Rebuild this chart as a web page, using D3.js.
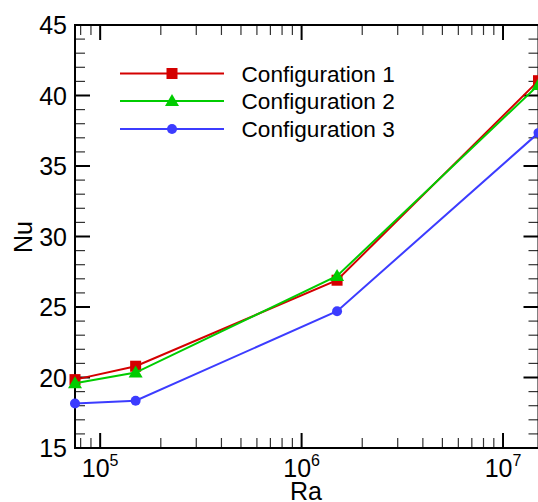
<!DOCTYPE html>
<html>
<head>
<meta charset="utf-8">
<script src="https://cdn.jsdelivr.net/npm/d3@7"></script>
<style>
  html, body { margin: 0; padding: 0; background: #fff; }
  svg { display: block; }
  text { font-family: "Liberation Sans", Arial, sans-serif; fill: #000; }
</style>
</head>
<body>
<svg id="chart" width="538" height="502"></svg>
<script>
// Rayleigh numbers sampled
const raValues = [7.5e4, 1.5e5, 1.5e6, 1.5e7];
// Nusselt numbers per configuration
const config1 = [19.85, 20.8, 26.9, 41.05];
const config2 = [19.6, 20.35, 27.2, 40.75];
const config3 = [18.15, 18.35, 24.7, 37.35];
const seriesNames = ["Configuration 1", "Configuration 2", "Configuration 3"];
const seriesColors = ["#d40000", "#00cc00", "#3c3cff"];
const seriesShapes = ["square", "triangle", "circle"];
const yTicks = [15, 20, 25, 30, 35, 40, 45];
const xMajorExps = [5, 6, 7];

const svg = d3.select("#chart");
const m = { left: 75, top: 25, right: 538.5, bottom: 448 };

const x = d3.scaleLog().domain([7.5e4, 1.5e7]).range([m.left, m.right]);
const y = d3.scaleLinear().domain([15, 45]).range([m.bottom, m.top]);

// Minor ticks: every 1 on y; 2..9 × 10^n on x
const yMinor = d3.range(15, 46, 1).filter(v => v % 5 !== 0);
const xMinor = [];
[4, 5, 6, 7].forEach(e => { for (let k = 2; k <= 9; k++) { const v = k * Math.pow(10, e); if (v >= 7.5e4 && v <= 1.5e7) xMinor.push(v); } });
const xMajor = xMajorExps.map(e => Math.pow(10, e));

const majorLen = 15, minorLen = 10;
const tickG = svg.append("g");

// Left and right axes (ticks pointing inward)
yTicks.forEach(v => {
  tickG.append("line").attr("x1", m.left).attr("x2", m.left + majorLen).attr("y1", y(v)).attr("y2", y(v)).attr("stroke", "#000").attr("stroke-width", 2);
  tickG.append("line").attr("x1", m.right).attr("x2", m.right - majorLen).attr("y1", y(v)).attr("y2", y(v)).attr("stroke", "#000").attr("stroke-width", 2);
});
yMinor.forEach(v => {
  tickG.append("line").attr("x1", m.left).attr("x2", m.left + minorLen).attr("y1", y(v)).attr("y2", y(v)).attr("stroke", "#333").attr("stroke-width", 1.2);
  tickG.append("line").attr("x1", m.right).attr("x2", m.right - minorLen).attr("y1", y(v)).attr("y2", y(v)).attr("stroke", "#333").attr("stroke-width", 1.2);
});
// Bottom and top axes
xMajor.forEach(v => {
  tickG.append("line").attr("x1", x(v)).attr("x2", x(v)).attr("y1", m.bottom).attr("y2", m.bottom - majorLen).attr("stroke", "#000").attr("stroke-width", 2);
  tickG.append("line").attr("x1", x(v)).attr("x2", x(v)).attr("y1", m.top).attr("y2", m.top + majorLen).attr("stroke", "#000").attr("stroke-width", 2);
});
xMinor.forEach(v => {
  tickG.append("line").attr("x1", x(v)).attr("x2", x(v)).attr("y1", m.bottom).attr("y2", m.bottom - minorLen).attr("stroke", "#333").attr("stroke-width", 1.2);
  tickG.append("line").attr("x1", x(v)).attr("x2", x(v)).attr("y1", m.top).attr("y2", m.top + minorLen).attr("stroke", "#333").attr("stroke-width", 1.2);
});

// Frame
svg.append("rect").attr("x", m.left).attr("y", m.top)
  .attr("width", m.right - m.left).attr("height", m.bottom - m.top)
  .attr("fill", "none").attr("stroke", "#000").attr("stroke-width", 2);

// Y tick labels
yTicks.forEach(v => {
  svg.append("text").attr("x", 67).attr("y", y(v)).attr("dy", "0.36em")
    .attr("text-anchor", "end").attr("font-size", 25).text(v);
});
// X tick labels: 10 with superscript exponent
xMajorExps.forEach(e => {
  const t = svg.append("text").attr("x", x(Math.pow(10, e))).attr("y", 476.5)
    .attr("text-anchor", "middle").attr("font-size", 25);
  t.append("tspan").text("10");
  t.append("tspan").attr("font-size", 16).attr("dy", -11).text(e);
});

// Axis titles
svg.append("text").attr("x", 306).attr("y", 500).attr("text-anchor", "middle").attr("font-size", 25).text("Ra");
svg.append("text").attr("transform", "translate(32,237) rotate(-90)").attr("text-anchor", "middle").attr("font-size", 25).text("Nu");

// Marker drawing
function marker(g, shape, cx, cy, color) {
  if (shape === "square") {
    g.append("rect").attr("x", cx - 5.5).attr("y", cy - 5.5).attr("width", 11).attr("height", 11).attr("fill", color);
  } else if (shape === "triangle") {
    g.append("path").attr("d", `M${cx},${cy - 7}L${cx + 7},${cy + 5}L${cx - 7},${cy + 5}Z`).attr("fill", color);
  } else {
    g.append("circle").attr("cx", cx).attr("cy", cy).attr("r", 5).attr("fill", color);
  }
}

const allSeries = [config1, config2, config3];
const line = d3.line().x(d => x(d[0])).y(d => y(d[1]));
allSeries.forEach((vals, i) => {
  const pts = raValues.map((r, j) => [r, vals[j]]);
  const g = svg.append("g");
  g.append("path").attr("d", line(pts)).attr("fill", "none").attr("stroke", seriesColors[i]).attr("stroke-width", 2);
  pts.forEach(p => marker(g, seriesShapes[i], x(p[0]), y(p[1]), seriesColors[i]));
});

// Legend
const legendRows = [73.5, 101, 129];
seriesNames.forEach((name, i) => {
  const g = svg.append("g");
  g.append("line").attr("x1", 120).attr("x2", 224).attr("y1", legendRows[i]).attr("y2", legendRows[i])
    .attr("stroke", seriesColors[i]).attr("stroke-width", 2);
  marker(g, seriesShapes[i], 172, legendRows[i], seriesColors[i]);
  g.append("text").attr("x", 241.5).attr("y", legendRows[i]).attr("dy", "0.36em")
    .attr("font-size", 22.6).text(name);
});
</script>
</body>
</html>
